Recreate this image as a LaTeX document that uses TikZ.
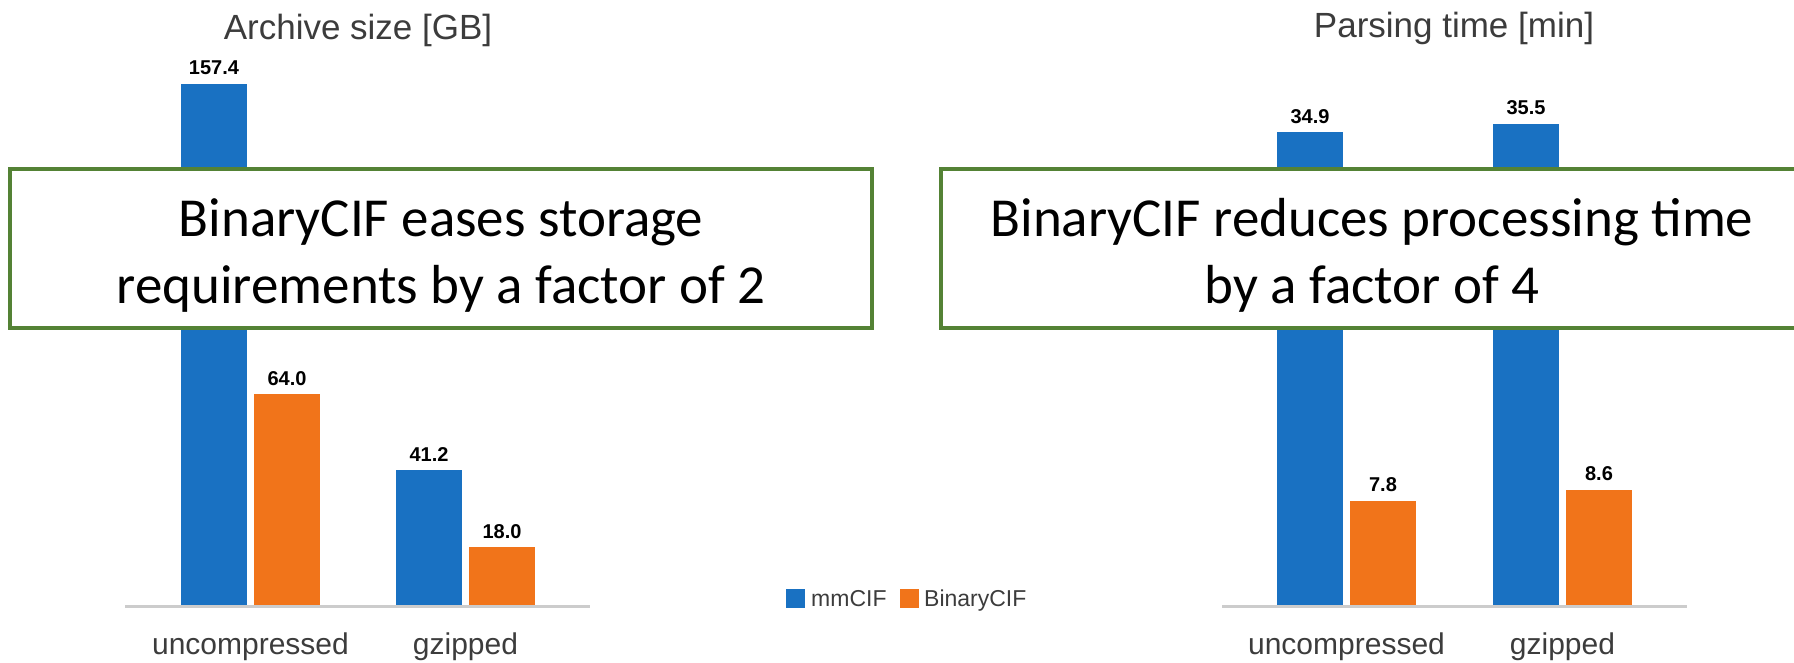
\documentclass[tikz,border=0pt]{standalone}
\usepackage{fontspec}
\newfontfamily\chartfont{Liberation Sans}
\newfontfamily\calloutfont{Carlito}
\usetikzlibrary{positioning}
\definecolor{MmColor}{RGB}{25,113,194}
\definecolor{BcifColor}{RGB}{241,116,26}
\definecolor{AxisColor}{RGB}{204,204,204}
\definecolor{BoxColor}{RGB}{84,130,53}
\definecolor{LabelColor}{RGB}{60,60,60}

\begin{document}
\begin{tikzpicture}[
    x=1pt, y=1pt,
    every node/.style={font=\chartfont},
    charttitle/.style={text=LabelColor, font=\chartfont\fontsize{35}{40}\selectfont, anchor=base, inner sep=0pt},
    value/.style={font=\chartfont\bfseries\fontsize{20}{24}\selectfont, anchor=base, inner sep=0pt},
    category/.style={text=LabelColor, font=\chartfont\fontsize{30}{36}\selectfont, anchor=base, inner sep=0pt},
    legend/.style={text=LabelColor, font=\chartfont\fontsize{23}{28}\selectfont, anchor=base west, inner sep=0pt},
    callout/.style={rectangle, draw=BoxColor, line width=3.5pt, fill=white, minimum width=862pt, minimum height=159pt},
    message/.style={font=\calloutfont\fontsize{55}{67}\selectfont, align=center, inner sep=0pt},
]
\useasboundingbox (0,-56) rectangle (1794,607);

% Archive size chart
\node[charttitle] (size_title) at (358,567) {Archive size [GB]};
\foreach \xl/\val/\col [count=\i] in {181/157.4/MmColor, 254/64.0/BcifColor, 396/41.2/MmColor, 469/18.0/BcifColor} {
    \fill[\col] (\xl,0) rectangle ++(66,\val*3.323);
    \node[value] (size_val\i) at (\xl+33,\val*3.323+9) {\val};
}
\draw[AxisColor, line width=3pt] (125,0) -- (590,0);
\node[category] (size_unc) at (250.5,-48) {uncompressed};
\node[category] (size_gz) at (465.5,-48) {gzipped};

% Parsing time chart
\node[charttitle] (time_title) at (1454,569) {Parsing time [min]};
\foreach \xl/\val/\col [count=\i] in {1277/34.9/MmColor, 1350/7.8/BcifColor, 1493/35.5/MmColor, 1566/8.6/BcifColor} {
    \fill[\col] (\xl,0) rectangle ++(66,\val*13.61);
    \node[value] (time_val\i) at (\xl+33,\val*13.61+9) {\val};
}
\draw[AxisColor, line width=3pt] (1222,0) -- (1687,0);
\node[category] (time_unc) at (1346.5,-48) {uncompressed};
\node[category] (time_gz) at (1562.5,-48) {gzipped};

% Legend
\fill[MmColor] (786,-1) rectangle (805,18);
\node[legend] (leg_mm) at (811,0) {mmCIF};
\fill[BcifColor] (900,-1) rectangle (919,18);
\node[legend] (leg_bcif) at (924,0) {BinaryCIF};

% Callouts
\node[callout] (storage_box) at (441,358.5) {};
\node[message] (storage_msg) at ([yshift=-7pt]storage_box.center) {BinaryCIF eases storage\\requirements by a factor of 2};

\node[callout] (time_box) at (1372,358.5) {};
\node[message] (time_msg) at ([yshift=-7pt]time_box.center) {BinaryCIF reduces processing time\\by a factor of 4};

\end{tikzpicture}
\end{document}
